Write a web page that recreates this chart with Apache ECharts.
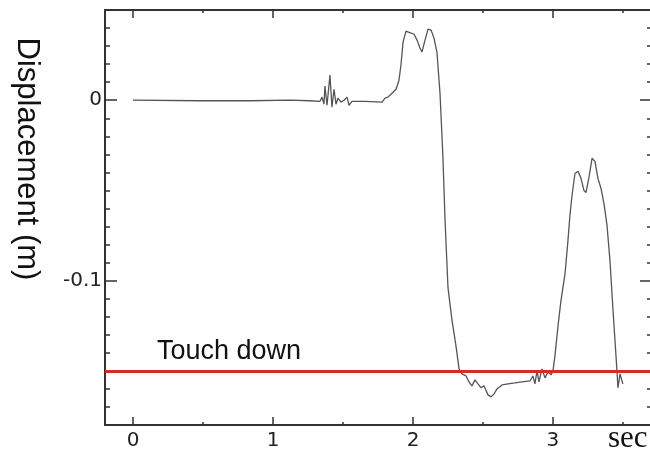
<!DOCTYPE html>
<html>
<head>
<meta charset="utf-8">
<script src="https://cdn.jsdelivr.net/npm/echarts@6/dist/echarts.min.js"></script>
<style>
  html, body { margin: 0; padding: 0; background: #fff; }
  #chart { width: 650px; height: 454px; }
</style>
</head>
<body>
<div id="chart"></div>
<script>
// time (sec) and displacement (m)
var timeSec = [
  0.00, 0.48, 0.84, 1.12, 1.26, 1.336, 1.35, 1.364, 1.371, 1.386, 1.407, 1.421, 1.436, 1.45,
  1.464, 1.486, 1.507, 1.529, 1.543, 1.564, 1.657, 1.779, 1.80, 1.821, 1.85, 1.879, 1.90,
  1.914, 1.929, 1.95, 1.964, 1.986, 2.007, 2.029, 2.05, 2.064, 2.086, 2.107, 2.129, 2.15,
  2.171, 2.193, 2.214, 2.229, 2.25, 2.279, 2.307, 2.329, 2.35, 2.379, 2.40, 2.421, 2.443,
  2.464, 2.486, 2.507, 2.536, 2.557, 2.579, 2.60, 2.636, 2.679, 2.729, 2.779, 2.836, 2.857,
  2.871, 2.886, 2.90, 2.921, 2.943, 2.964, 2.986, 3.00, 3.014, 3.036, 3.057, 3.086, 3.107,
  3.121, 3.136, 3.157, 3.179, 3.20, 3.221, 3.236, 3.257, 3.279, 3.30, 3.321, 3.343, 3.364,
  3.386, 3.407, 3.429, 3.443, 3.457, 3.464, 3.479, 3.493, 3.50
];
var displacement = [
  0, -0.0003, -0.0003, 0, -0.0003, -0.0006, 0.0017, -0.0022, 0.0078, -0.0028, 0.0139, -0.0039, 0.0061, -0.0022,
  0.0011, -0.0011, 0, 0.0017, -0.0028, -0.0006, -0.0006, -0.0011, 0.0011, 0.0017, 0.0039, 0.0061, 0.0111,
  0.0194, 0.0322, 0.0383, 0.0394, 0.0372, 0.0367, 0.0333, 0.0289, 0.0267, 0.0333, 0.0394, 0.0389, 0.0344,
  0.0267, 0.0039, -0.0317, -0.0667, -0.1039, -0.1222, -0.1361, -0.1489, -0.1517, -0.1528, -0.1561, -0.1583, -0.155,
  -0.1572, -0.1594, -0.1583, -0.1633, -0.1644, -0.1628, -0.16, -0.1578, -0.1572, -0.1567, -0.1561, -0.1556, -0.1528,
  -0.1572, -0.15, -0.1561, -0.1489, -0.1539, -0.1506, -0.1522, -0.15, -0.1417, -0.125, -0.1111, -0.0961, -0.0778,
  -0.0639, -0.0528, -0.0406, -0.0394, -0.0433, -0.05, -0.0511, -0.0428, -0.0322, -0.0339, -0.0433, -0.0489, -0.0572,
  -0.0694, -0.0889, -0.1167, -0.1333, -0.15, -0.1594, -0.1517, -0.1556, -0.1572
];
var touchDown = -0.15;

// tick positions
var xMajor = [0, 1, 2, 3];
var xMinor = [0.5, 1.5, 2.5, 3.5];
var yMajor = [0, -0.1];
var yMinor = [0.04, 0.03, 0.02, 0.01, -0.01, -0.02, -0.03, -0.04, -0.05, -0.06, -0.07, -0.08, -0.09,
              -0.11, -0.12, -0.13, -0.14, -0.15, -0.16, -0.17];

var X_MIN = -0.2, X_MAX = 3.693;
var Y_MIN = -0.18, Y_MAX = 0.05;

var axisColor = '#333';
var labelFont = { fontFamily: 'DejaVu Sans, sans-serif', fontSize: 20, color: '#222' };

function xAxisDef(pos, ticks, len, withLine, withLabels) {
  return {
    type: 'value', position: pos, min: X_MIN, max: X_MAX,
    axisLine: { show: withLine, onZero: false, lineStyle: { color: axisColor, width: 2 } },
    axisTick: { show: true, inside: true, length: len, customValues: ticks, lineStyle: { color: axisColor, width: 1.5 } },
    axisLabel: withLabels ? Object.assign({ show: true, margin: 6, customValues: ticks }, labelFont) : { show: false },
    splitLine: { show: false }
  };
}
function yAxisDef(pos, ticks, len, withLine, withLabels) {
  return {
    type: 'value', position: pos, min: Y_MIN, max: Y_MAX,
    axisLine: { show: withLine, onZero: false, lineStyle: { color: axisColor, width: 2 } },
    axisTick: { show: true, inside: true, length: len, customValues: ticks, lineStyle: { color: axisColor, width: 1.5 } },
    axisLabel: withLabels ? Object.assign({ show: true, margin: 3, customValues: ticks,
      formatter: function (v) { return v === 0 ? '0' : String(v); } }, labelFont) : { show: false },
    splitLine: { show: false }
  };
}

var myChart = echarts.init(document.getElementById('chart'));

var lineData = timeSec.map(function (t, i) { return [t, displacement[i]]; });

var option = {
  animation: false,
  grid: { left: 105, right: 0, top: 10, bottom: 29 },
  xAxis: [
    xAxisDef('bottom', xMajor, 8, true, true),
    xAxisDef('bottom', xMinor, 3, false, false),
    xAxisDef('top', xMajor, 8, true, false),
    xAxisDef('top', xMinor, 3, false, false)
  ],
  yAxis: [
    yAxisDef('left', yMajor, 12, true, true),
    yAxisDef('left', yMinor, 5, false, false),
    yAxisDef('right', yMajor, 10, false, false),
    yAxisDef('right', yMinor, 3, false, false)
  ],
  graphic: [
    {
      type: 'text', x: 27, y: 159, rotation: -Math.PI / 2,
      style: {
        text: 'Displacement (m)', fill: '#111',
        font: '31px "Liberation Sans", Arial, sans-serif',
        textAlign: 'center', textVerticalAlign: 'middle'
      }
    },
    {
      type: 'text', x: 608, y: 454,
      style: {
        text: 'sec', fill: '#111',
        font: '31px "Liberation Serif", "Times New Roman", serif',
        textAlign: 'left', textVerticalAlign: 'bottom'
      }
    }
  ],
  series: [
    {
      name: 'Displacement',
      type: 'line',
      xAxisIndex: 0,
      yAxisIndex: 0,
      showSymbol: false,
      data: lineData,
      lineStyle: { color: '#555', width: 1.3 },
      markLine: {
        silent: true,
        symbol: ['none', 'none'],
        lineStyle: { color: '#e0262a', width: 3, type: 'solid' },
        label: {
          show: true,
          position: 'insideStartTop',
          distance: [52, 6],
          formatter: 'Touch down',
          color: '#111',
          fontSize: 27,
          fontFamily: 'Liberation Sans, Arial, sans-serif'
        },
        data: [{ yAxis: touchDown }]
      }
    }
  ]
};

myChart.setOption(option);
</script>
</body>
</html>
